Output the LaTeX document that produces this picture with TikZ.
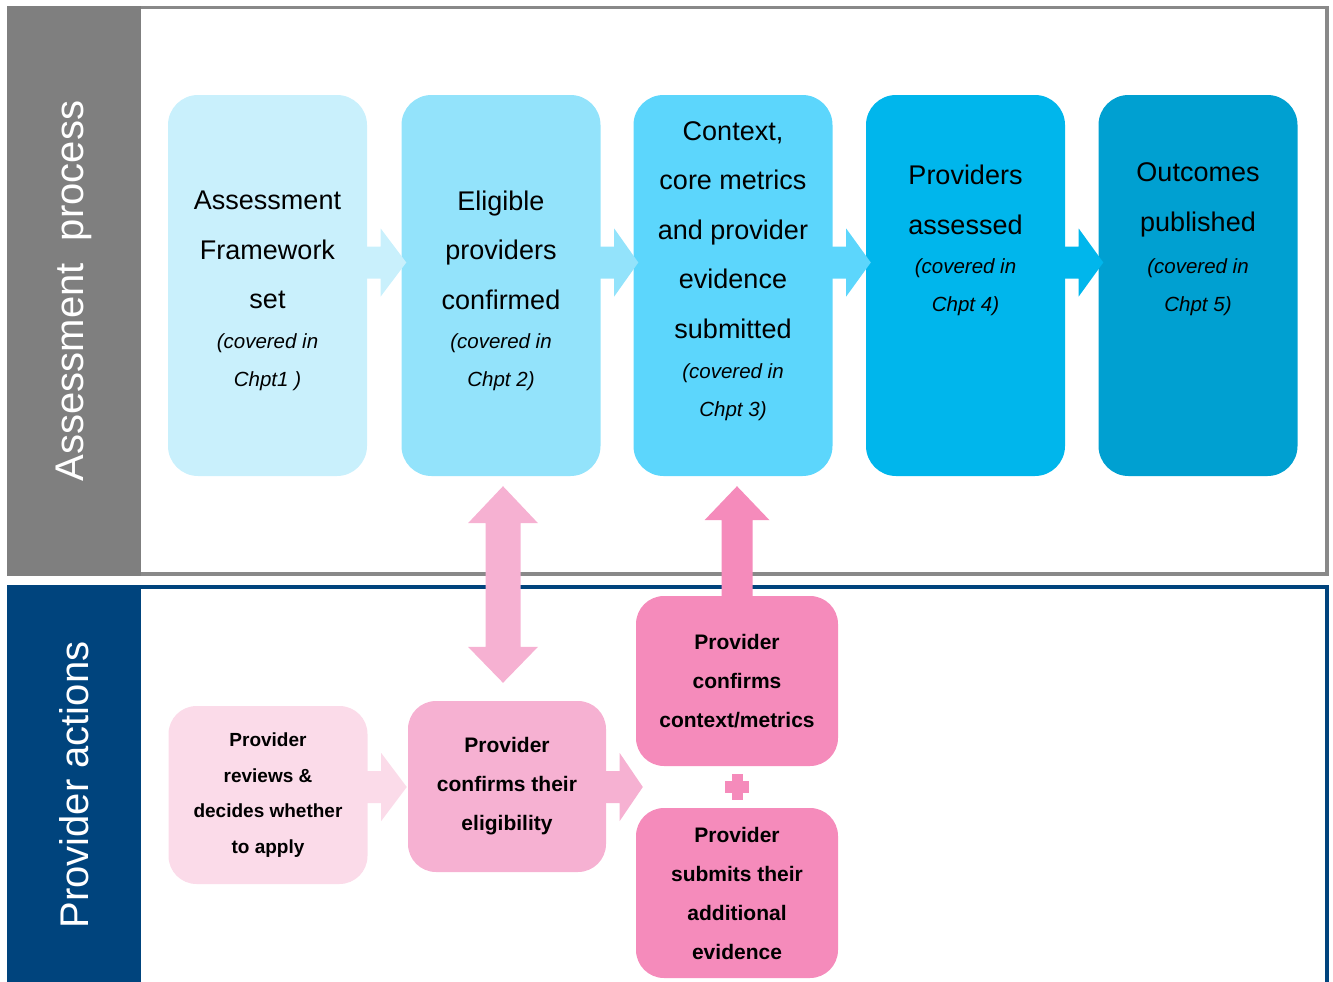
\documentclass[tikz,border=0pt]{standalone}
\usepackage{fontspec}
\setmainfont{Liberation Sans}
\usetikzlibrary{calc, positioning}

\definecolor{laneGray}{HTML}{7F7F7F}
\definecolor{frameGray}{HTML}{898989}
\definecolor{laneBlue}{HTML}{00447D}
\definecolor{stA}{HTML}{C9F0FC}
\definecolor{stB}{HTML}{93E3FB}
\definecolor{stC}{HTML}{5CD6FC}
\definecolor{stD}{HTML}{00B6EC}
\definecolor{stE}{HTML}{00A0D1}
\definecolor{pkA}{HTML}{FBDBE9}
\definecolor{pkB}{HTML}{F6B1D2}
\definecolor{pkC}{HTML}{F58BBB}

% horizontal block arrow: from node, to node, y of tip, colour, tip shift
\newcommand{\harrow}[5]{%
  \fill[#4] ($(#1.east |- 0,#3)+(-1,-16)$) -- ++(14.5,0) -- ++(0,-18)
    -- ($(#2.west |- 0,#3)+(#5,0)$)
    -- ($(#1.east |- 0,#3)+(13.5,34)$) -- ++(0,-18)
    -- ($(#1.east |- 0,#3)+(-1,16)$) -- cycle;}

\begin{document}
\begin{tikzpicture}[x=1pt, y=-1pt,
    stage/.style={rounded corners=30pt, inner sep=0pt, minimum width=199pt, minimum height=381pt},
    ttl/.style={align=center, inner sep=0pt, font=\fontsize{27}{49.5}\selectfont},
    chp/.style={align=center, inner sep=0pt, font=\itshape\fontsize{20.5}{38}\selectfont},
    act/.style={rounded corners=28pt, inner sep=0pt, align=center, font=\bfseries\fontsize{21}{39}\selectfont},
    lane/.style={rotate=90, text=white, inner sep=0pt, font=\fontsize{40}{48}\selectfont}]

    \useasboundingbox (0,0) rectangle (1333,982);

    % Assessment process lane
    \fill[laneGray] (7,6) rectangle (141,576);
    \draw[frameGray, line width=3.5pt] (141,7.5) -- (1327,7.5) -- (1327,574) -- (141,574);
    \node[lane] (lblA) at (74,291) {Assessment\ \ process};

    % Provider actions lane
    \fill[laneBlue] (7,585) rectangle (141,982);
    \draw[laneBlue, line width=3.5pt] (141,587) -- (1327,587) -- (1327,982);
    \node[lane] (lblP) at (74,785) {Provider actions};

    % Stages of the assessment
    \node[stage, fill=stA] (frame) at (267.5,285.5) {};
    \node[stage, fill=stB] (elig) at (501,285.5) {};
    \node[stage, fill=stC] (ctx) at (733,285.5) {};
    \node[stage, fill=stD] (assess) at (965.5,285.5) {};
    \node[stage, fill=stE] (publish) at (1198,285.5) {};

    \node[ttl] (frameT) at (frame.center |- 0,250) {Assessment\\Framework\\set};
    \node[chp] (frameC) at (frame.center |- 0,362) {(covered in\\Chpt1 )};
    \node[ttl] (eligT) at (elig.center |- 0,250) {Eligible\\providers\\confirmed};
    \node[chp] (eligC) at (elig.center |- 0,362) {(covered in\\Chpt 2)};
    \node[ttl] (ctxT) at (ctx.center |- 0,230) {Context,\\core metrics\\and provider\\evidence\\submitted};
    \node[chp] (ctxC) at (ctx.center |- 0,392) {(covered in\\Chpt 3)};
    \node[ttl] (assessT) at (assess.center |- 0,200) {Providers\\assessed};
    \node[chp] (assessC) at (assess.center |- 0,287) {(covered in\\Chpt 4)};
    \node[ttl] (publishT) at (publish.center |- 0,200) {Outcomes\\published};
    \node[chp] (publishC) at (publish.center |- 0,287) {(covered in\\Chpt 5)};

    \foreach \a/\b/\c in {frame/elig/stA, elig/ctx/stB, ctx/assess/stC, assess/publish/stD}
      \harrow{\a}{\b}{262.5}{\c}{5};

    % Provider actions
    \node[act, fill=pkA, minimum width=199pt, minimum height=178pt,
          font=\bfseries\fontsize{19}{35.6}\selectfont] (review) at (268,795)
          {Provider\\reviews \&\\decides whether\\to apply};
    \node[act, fill=pkB, minimum width=198pt, minimum height=171pt] (confirm) at (507,786.5)
          {Provider\\confirms their\\eligibility};
    \node[act, fill=pkC, minimum width=202pt, minimum height=170pt] (metrics) at (737,681)
          {Provider\\confirms\\context/metrics};
    \node[act, fill=pkC, minimum width=202pt, minimum height=170pt] (evid) at (737,893)
          {Provider\\submits their\\additional\\evidence};

    \harrow{review}{confirm}{787}{pkA}{-1};
    \harrow{confirm}{metrics}{787}{pkB}{7};

    % plus between the two submissions
    \coordinate (plus) at ($(metrics.south)!0.5!(evid.north)$);
    \fill[pkC] ($(plus)+(-12,-6)$) rectangle ($(plus)+(12,6)$);
    \fill[pkC] ($(plus)+(-5.5,-13)$) rectangle ($(plus)+(5.5,13)$);

    % two-way arrow: eligibility
    \coordinate (dTop) at ($(elig.south)+(2,10)$);
    \coordinate (dBot) at ($(dTop |- confirm.north)+(0,-18)$);
    \fill[pkB] (dTop) -- ++(35,37) -- ++(-17.5,0) -- ($(dBot)+(17.5,-36)$) -- ++(17.5,0)
      -- (dBot) -- ++(-35,-36) -- ++(17.5,0) -- ($(dTop)+(-17.5,37)$) -- ++(-17.5,0) -- cycle;

    % one-way arrow: context/metrics
    \coordinate (uTop) at ($(metrics.north |- ctx.south)+(0,10)$);
    \fill[pkC] (uTop) -- ++(32.5,34) -- ++(-17,0) -- ($(metrics.north)+(15.5,2)$)
      -- ($(metrics.north)+(-15.5,2)$) -- ($(uTop)+(-15.5,34)$) -- ++(-17,0) -- cycle;
\end{tikzpicture}
\end{document}
